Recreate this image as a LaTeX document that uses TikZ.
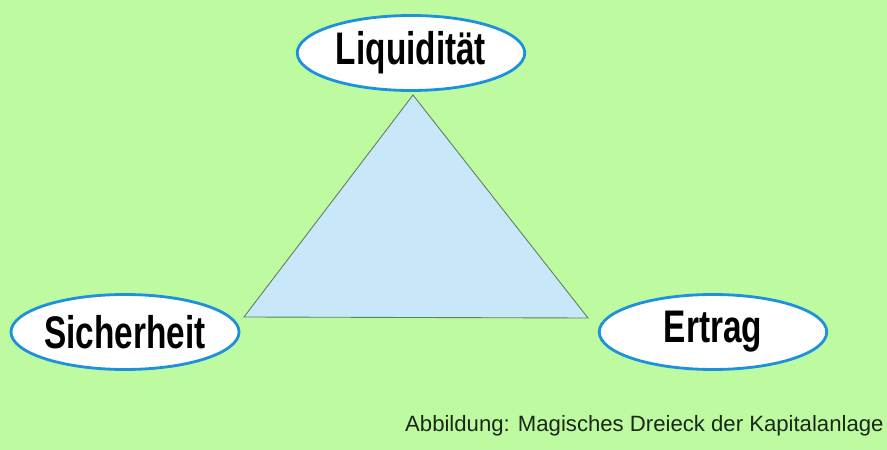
\documentclass[tikz,border=0pt]{standalone}
\usepackage{fontspec}
\setmainfont{Liberation Sans}
\newfontfamily\boldnarrow[FakeStretch=0.73]{Liberation Sans Bold}
\usetikzlibrary{shapes.geometric}
\definecolor{bggreen}{RGB}{190,250,160}
\definecolor{triblue}{RGB}{200,232,250}
\definecolor{triedge}{RGB}{95,125,95}
\definecolor{ringblue}{RGB}{30,145,220}
\definecolor{captext}{RGB}{25,40,25}
\tikzset{
  goal/.style={ellipse,draw=ringblue,line width=1.6pt,fill=white,
    minimum width=4.55cm,minimum height=1.5cm,inner sep=0pt,
    font=\boldnarrow\fontsize{26}{30}\selectfont}
}
\begin{document}
\begin{tikzpicture}[x=1cm,y=1cm,line width=.5pt]
\fill[bggreen] (0,0) rectangle (17.74,9);
\useasboundingbox (0,0) rectangle (17.74,9);
\coordinate (T) at (8.26,7.10);
\coordinate (L) at (4.88,2.66);
\coordinate (R) at (11.76,2.64);
\draw[triedge,fill=triblue] (T)--(R)--(L)--cycle;
\node[goal] (liq) at (8.22,7.94) {Liquidität};
\node[goal] (sich) at (2.50,2.36) {Sicherheit};
\node[goal] (ertr) at (14.26,2.36) {Ertrag};
\node[anchor=base east,inner sep=0pt,text=captext,font=\fontsize{12.6}{15}\selectfont] (cap) at (17.68,0.36) {Abbildung: Magisches Dreieck der Kapitalanlage};
\end{tikzpicture}
\end{document}
